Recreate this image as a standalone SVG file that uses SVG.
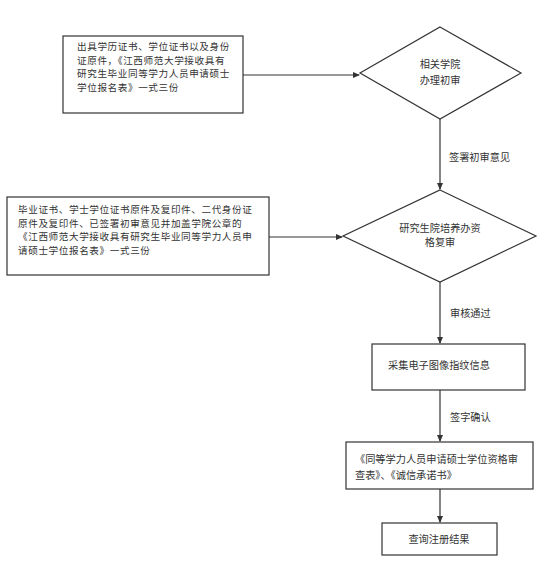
<svg xmlns="http://www.w3.org/2000/svg" width="548" height="569" viewBox="0 0 548 569">
<style>
.shape{fill:#fff;stroke:#333;stroke-width:1.2}
.conn{fill:none;stroke:#333;stroke-width:1.2;marker-end:url(#arr)}
text{font-family:"Noto Sans CJK SC","Noto Sans",sans-serif;font-size:10.2px;fill:#333}
.dense{font-size:9.6px;letter-spacing:0.6px}
.c{text-anchor:middle}
</style>
<defs>
<marker id="arr" markerWidth="7" markerHeight="6" refX="6" refY="3" orient="auto" markerUnits="userSpaceOnUse">
<path d="M0,0 L7,3 L0,6 Z" fill="#333"/>
</marker>
</defs>
<rect width="548" height="569" fill="#fff"/>
<g id="connectors">
<path class="conn" d="M243,75 H359"/>
<path class="conn" d="M269,237 H342"/>
<path class="conn" d="M440,119 V189"/>
<path class="conn" d="M440,282 V343"/>
<path class="conn" d="M440,390 V441"/>
<path class="conn" d="M440,489 V522"/>
<text x="449" y="161">签署初审意见</text>
<text x="450" y="317">审核通过</text>
<text x="450" y="421">签字确认</text>
</g>
<g id="box1">
<rect class="shape" x="63" y="36" width="180" height="77"/>
<text class="dense" x="77" y="50.3"><tspan x="77" y="50.3">出具学历证书、学位证书以及身份</tspan><tspan x="77" y="63.7">证原件，《江西师范大学接收具有</tspan><tspan x="77" y="77.1">研究生毕业同等学力人员申请硕士</tspan><tspan x="77" y="90.5">学位报名表》一式三份</tspan></text>
</g>
<g id="diamond1">
<polygon class="shape" points="440,27 521,73 440,119 360,73"/>
<text class="c" x="440" y="68"><tspan x="440" y="68">相关学院</tspan><tspan x="440" y="84">办理初审</tspan></text>
</g>
<g id="box2">
<rect class="shape" x="7" y="197" width="262" height="78"/>
<text class="dense" x="18" y="213.3"><tspan x="18" y="213.3">毕业证书、学士学位证书原件及复印件、二代身份证</tspan><tspan x="18" y="226.7">原件及复印件、已签署初审意见并加盖学院公章的</tspan><tspan x="18" y="240.1">《江西师范大学接收具有研究生毕业同等学力人员申</tspan><tspan x="18" y="253.5">请硕士学位报名表》一式三份</tspan></text>
</g>
<g id="diamond2">
<polygon class="shape" points="440,190 536,236 440,282 343,236"/>
<text class="c" x="440" y="232"><tspan x="440" y="232">研究生院培养办资</tspan><tspan x="440" y="246">格复审</tspan></text>
</g>
<g id="box3">
<rect class="shape" x="372" y="344" width="153" height="46"/>
<text class="c" x="439" y="369">采集电子图像指纹信息</text>
</g>
<g id="box4">
<rect class="shape" x="346" y="442" width="187" height="47"/>
<text x="355" y="463"><tspan x="355" y="463">《同等学力人员申请硕士学位资格审</tspan><tspan x="355" y="479">查表》、《诚信承诺书》</tspan></text>
</g>
<g id="box5">
<rect class="shape" x="382" y="523" width="115" height="32"/>
<text class="c" x="439" y="543">查询注册结果</text>
</g>
</svg>
